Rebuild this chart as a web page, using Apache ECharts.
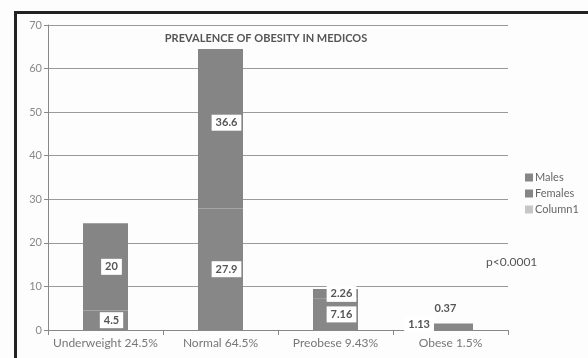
<!DOCTYPE html>
<html>
<head>
<meta charset="utf-8">
<script src="https://cdn.jsdelivr.net/npm/echarts@6/dist/echarts.min.js"></script>
<style>
  html, body { margin: 0; padding: 0; background: #fdfdfd; }
  #main { width: 588px; height: 358px; }
</style>
</head>
<body>
<div id="main"></div>
<script>
// data
var categories = ['Underweight 24.5%', 'Normal 64.5%', 'Preobese 9.43%', 'Obese 1.5%'];
var males = [4.5, 27.9, 7.16, 1.13];
var females = [20, 36.6, 2.26, 0.37];
var yTicks = [0, 10, 20, 30, 40, 50, 60, 70];

var chart = echarts.init(document.getElementById('main'), null, { renderer: 'canvas' });

var labelBox = {
    show: true,
    color: '#555',
    fontFamily: 'Lato',
    fontWeight: 'bold',
    fontSize: 11,
    backgroundColor: '#fff',
    padding: [3, 4, 2, 4]
};

// per-bar label tweaks, the scan places some labels off centre
function maleLabel(i) {
    if (i === 3) return Object.assign({}, labelBox, { position: 'left', distance: 0, offset: [6, -3] });
    return Object.assign({}, labelBox, { position: 'inside', offset: [6, 0] });
}
function femaleLabel(i) {
    if (i === 3) return Object.assign({}, labelBox, { position: 'top', distance: 2, offset: [-5, -6], backgroundColor: 'transparent' });
    if (i === 1) return Object.assign({}, labelBox, { position: 'inside', offset: [6, -6] });
    return Object.assign({}, labelBox, { position: 'inside', offset: [6, 0] });
}

var option = {
    backgroundColor: '#fdfdfd',
    animation: false,
    title: {
        text: 'PREVALENCE OF OBESITY IN MEDICOS',
        left: 261,
        top: 28,
        textAlign: 'center',
        textStyle: { color: '#555', fontFamily: 'Lato', fontWeight: 'bold', fontSize: 11 }
    },
    legend: {
        orient: 'vertical',
        left: 520,
        top: 167,
        itemWidth: 8,
        itemHeight: 8,
        itemGap: 5,
        icon: 'rect',
        textStyle: { color: '#666', fontFamily: 'Lato', fontSize: 11, padding: [0, 0, 0, -3] },
        data: ['Males', 'Females', 'Column1']
    },
    grid: { left: 48, right: 80, top: 25, bottom: 28 },
    xAxis: {
        type: 'category',
        data: categories,
        axisLine: { lineStyle: { color: '#888' } },
        axisTick: { show: true, length: 5, lineStyle: { color: '#888' } },
        axisLabel: { interval: 0, color: '#777', fontFamily: 'Lato', fontSize: 12, margin: 7 }
    },
    yAxis: {
        type: 'value',
        min: yTicks[0],
        max: yTicks[yTicks.length - 1],
        interval: 10,
        axisLine: { show: true, lineStyle: { color: '#888' } },
        axisTick: { show: true, length: 4, lineStyle: { color: '#888' } },
        axisLabel: { color: '#888', fontFamily: 'Lato', fontSize: 11, margin: 6 },
        splitLine: { lineStyle: { color: '#9a9a9a' } }
    },
    series: [
        {
            name: 'Males',
            type: 'bar',
            stack: 'total',
            barWidth: 45,
            itemStyle: { color: '#878787' },
            data: males.map(function (v, i) { return { value: v, label: maleLabel(i) }; })
        },
        {
            name: 'Females',
            type: 'bar',
            stack: 'total',
            barWidth: 45,
            itemStyle: { color: '#858585' },
            data: females.map(function (v, i) { return { value: v, label: femaleLabel(i) }; })
        },
        {
            name: 'Column1',
            type: 'bar',
            stack: 'total',
            barWidth: 45,
            itemStyle: { color: '#c6c6c6' },
            data: []
        }
    ],
    graphic: [
        {
            type: 'text',
            left: 486,
            top: 256,
            style: { text: 'p<0.0001', fill: '#555', font: '12px Lato' }
        },
        {
            // scanned frame round the figure
            type: 'rect',
            left: 13,
            top: 10,
            shape: { x: 0, y: 0, width: 600, height: 380 },
            style: { fill: 'none', stroke: '#222', lineWidth: 3 }
        }
    ]
};

chart.setOption(option);
</script>
</body>
</html>
